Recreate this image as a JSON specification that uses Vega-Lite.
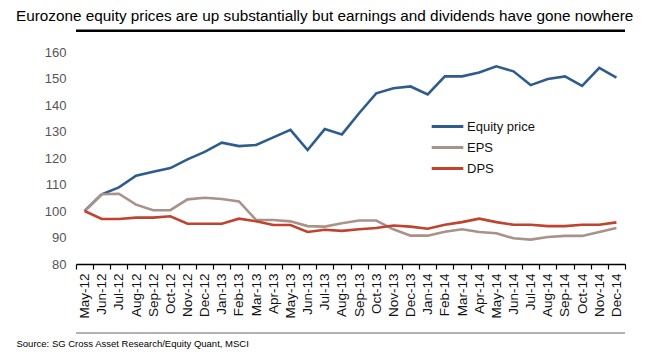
{
  "$schema": "https://vega.github.io/schema/vega-lite/v6.json",
  "width": 549,
  "height": 212,
  "autosize": {"type": "none"},
  "padding": {"left": 76, "top": 52, "right": 20, "bottom": 99},
  "background": "white",
  "config": {
    "view": {"stroke": null},
    "font": "Liberation Sans",
    "axisY": {
      "values": [80, 90, 100, 110, 120, 130, 140, 150, 160],
      "labelOverlap": false,
      "domain": false,
      "ticks": false,
      "grid": false,
      "labelPadding": 10,
      "labelFontSize": 13,
      "labelColor": "#555"
    }
  },
  "title": {
    "text": "Eurozone equity prices are up substantially but earnings and dividends have gone nowhere",
    "anchor": "start",
    "frame": "group",
    "dx": -60,
    "offset": 5,
    "fontSize": 15.3,
    "fontWeight": "normal",
    "color": "#000"
  },
  "layer": [
    {
      "data": {"values": [{"level": 168, "kind": "top"}, {"level": 54, "kind": "bottom"}]},
      "mark": {"type": "rule", "clip": false},
      "encoding": {
        "y": {"field": "level", "type": "quantitative", "scale": {"domain": [80, 160]}, "axis": {"title": null}},
        "stroke": {"field": "kind", "type": "nominal", "scale": {"domain": ["top", "bottom"], "range": ["#000000", "#9a9a9a"]}, "legend": null},
        "strokeWidth": {"field": "kind", "type": "nominal", "scale": {"domain": ["top", "bottom"], "range": [2.5, 1.5]}, "legend": null}
      }
    },
    {
      "data": {"values": [
        {"month": "May-12", "series": "Equity price", "value": 100},
        {"month": "Jun-12", "series": "Equity price", "value": 106.3},
        {"month": "Jul-12", "series": "Equity price", "value": 108.9},
        {"month": "Aug-12", "series": "Equity price", "value": 113.3},
        {"month": "Sep-12", "series": "Equity price", "value": 114.8},
        {"month": "Oct-12", "series": "Equity price", "value": 116.2},
        {"month": "Nov-12", "series": "Equity price", "value": 119.5},
        {"month": "Dec-12", "series": "Equity price", "value": 122.3},
        {"month": "Jan-13", "series": "Equity price", "value": 125.8},
        {"month": "Feb-13", "series": "Equity price", "value": 124.5},
        {"month": "Mar-13", "series": "Equity price", "value": 124.9},
        {"month": "Apr-13", "series": "Equity price", "value": 127.8},
        {"month": "May-13", "series": "Equity price", "value": 130.6},
        {"month": "Jun-13", "series": "Equity price", "value": 123.0},
        {"month": "Jul-13", "series": "Equity price", "value": 130.9},
        {"month": "Aug-13", "series": "Equity price", "value": 128.9},
        {"month": "Sep-13", "series": "Equity price", "value": 136.9},
        {"month": "Oct-13", "series": "Equity price", "value": 144.4},
        {"month": "Nov-13", "series": "Equity price", "value": 146.3},
        {"month": "Dec-13", "series": "Equity price", "value": 147.0},
        {"month": "Jan-14", "series": "Equity price", "value": 144.0},
        {"month": "Feb-14", "series": "Equity price", "value": 150.8},
        {"month": "Mar-14", "series": "Equity price", "value": 150.8},
        {"month": "Apr-14", "series": "Equity price", "value": 152.3},
        {"month": "May-14", "series": "Equity price", "value": 154.6},
        {"month": "Jun-14", "series": "Equity price", "value": 152.7},
        {"month": "Jul-14", "series": "Equity price", "value": 147.5},
        {"month": "Aug-14", "series": "Equity price", "value": 149.8},
        {"month": "Sep-14", "series": "Equity price", "value": 150.8},
        {"month": "Oct-14", "series": "Equity price", "value": 147.2},
        {"month": "Nov-14", "series": "Equity price", "value": 154.0},
        {"month": "Dec-14", "series": "Equity price", "value": 150.3},
        {"month": "May-12", "series": "EPS", "value": 100},
        {"month": "Jun-12", "series": "EPS", "value": 106.3},
        {"month": "Jul-12", "series": "EPS", "value": 106.5},
        {"month": "Aug-12", "series": "EPS", "value": 102.4},
        {"month": "Sep-12", "series": "EPS", "value": 100.3},
        {"month": "Oct-12", "series": "EPS", "value": 100.3},
        {"month": "Nov-12", "series": "EPS", "value": 104.4},
        {"month": "Dec-12", "series": "EPS", "value": 105.0},
        {"month": "Jan-13", "series": "EPS", "value": 104.5},
        {"month": "Feb-13", "series": "EPS", "value": 103.6},
        {"month": "Mar-13", "series": "EPS", "value": 96.6},
        {"month": "Apr-13", "series": "EPS", "value": 96.6},
        {"month": "May-13", "series": "EPS", "value": 96.1},
        {"month": "Jun-13", "series": "EPS", "value": 94.3},
        {"month": "Jul-13", "series": "EPS", "value": 94.1},
        {"month": "Aug-13", "series": "EPS", "value": 95.4},
        {"month": "Sep-13", "series": "EPS", "value": 96.4},
        {"month": "Oct-13", "series": "EPS", "value": 96.4},
        {"month": "Nov-13", "series": "EPS", "value": 93.1},
        {"month": "Dec-13", "series": "EPS", "value": 90.7},
        {"month": "Jan-14", "series": "EPS", "value": 90.7},
        {"month": "Feb-14", "series": "EPS", "value": 92.2},
        {"month": "Mar-14", "series": "EPS", "value": 93.1},
        {"month": "Apr-14", "series": "EPS", "value": 92.1},
        {"month": "May-14", "series": "EPS", "value": 91.6},
        {"month": "Jun-14", "series": "EPS", "value": 89.7},
        {"month": "Jul-14", "series": "EPS", "value": 89.2},
        {"month": "Aug-14", "series": "EPS", "value": 90.2},
        {"month": "Sep-14", "series": "EPS", "value": 90.6},
        {"month": "Oct-14", "series": "EPS", "value": 90.6},
        {"month": "Nov-14", "series": "EPS", "value": 92.1},
        {"month": "Dec-14", "series": "EPS", "value": 93.6},
        {"month": "May-12", "series": "DPS", "value": 100},
        {"month": "Jun-12", "series": "DPS", "value": 97.0},
        {"month": "Jul-12", "series": "DPS", "value": 97.0},
        {"month": "Aug-12", "series": "DPS", "value": 97.5},
        {"month": "Sep-12", "series": "DPS", "value": 97.5},
        {"month": "Oct-12", "series": "DPS", "value": 98.0},
        {"month": "Nov-12", "series": "DPS", "value": 95.2},
        {"month": "Dec-12", "series": "DPS", "value": 95.2},
        {"month": "Jan-13", "series": "DPS", "value": 95.2},
        {"month": "Feb-13", "series": "DPS", "value": 97.1},
        {"month": "Mar-13", "series": "DPS", "value": 96.1},
        {"month": "Apr-13", "series": "DPS", "value": 94.7},
        {"month": "May-13", "series": "DPS", "value": 94.7},
        {"month": "Jun-13", "series": "DPS", "value": 92.1},
        {"month": "Jul-13", "series": "DPS", "value": 92.9},
        {"month": "Aug-13", "series": "DPS", "value": 92.5},
        {"month": "Sep-13", "series": "DPS", "value": 93.1},
        {"month": "Oct-13", "series": "DPS", "value": 93.6},
        {"month": "Nov-13", "series": "DPS", "value": 94.5},
        {"month": "Dec-13", "series": "DPS", "value": 94.1},
        {"month": "Jan-14", "series": "DPS", "value": 93.3},
        {"month": "Feb-14", "series": "DPS", "value": 94.8},
        {"month": "Mar-14", "series": "DPS", "value": 95.8},
        {"month": "Apr-14", "series": "DPS", "value": 97.1},
        {"month": "May-14", "series": "DPS", "value": 95.8},
        {"month": "Jun-14", "series": "DPS", "value": 94.8},
        {"month": "Jul-14", "series": "DPS", "value": 94.8},
        {"month": "Aug-14", "series": "DPS", "value": 94.3},
        {"month": "Sep-14", "series": "DPS", "value": 94.3},
        {"month": "Oct-14", "series": "DPS", "value": 94.8},
        {"month": "Nov-14", "series": "DPS", "value": 94.8},
        {"month": "Dec-14", "series": "DPS", "value": 95.7}
      ]},
      "mark": {"type": "line", "strokeWidth": 2.6},
      "encoding": {
        "x": {
          "field": "month",
          "type": "ordinal",
          "sort": null,
          "bandPosition": 0.5,
          "scale": {"type": "band", "paddingInner": 0, "paddingOuter": 0},
          "axis": {
            "tickBand": "extent",
            "labelAngle": -90,
            "labelFontSize": 13.5,
            "labelColor": "#111",
            "labelPadding": 4,
            "labelOverlap": false,
            "domainColor": "#000",
            "domainWidth": 1.5,
            "tickColor": "#000",
            "tickWidth": 1.2,
            "tickSize": 5,
            "title": "Source: SG Cross Asset Research/Equity Quant, MSCI",
            "titleAnchor": "start",
            "titleAlign": "left",
            "titleX": -60,
            "titleY": 82,
            "titleBaseline": "alphabetic",
            "titleFontSize": 9.5,
            "titleFontWeight": "normal",
            "titleColor": "#000"
          }
        },
        "y": {
          "field": "value",
          "type": "quantitative",
          "scale": {"domain": [80, 160]},
          "axis": {"title": null}
        },
        "color": {
          "field": "series",
          "type": "nominal",
          "sort": null,
          "scale": {"domain": ["Equity price", "EPS", "DPS"], "range": ["#2F5C8F", "#A8928A", "#C0432F"]},
          "legend": {
            "title": null,
            "orient": "none",
            "legendX": 354,
            "legendY": 64,
            "symbolType": "stroke",
            "symbolStrokeWidth": 3,
            "symbolSize": 1000,
            "clipHeight": 21,
            "rowPadding": 0,
            "labelFontSize": 13,
            "labelColor": "#111",
            "labelOffset": 2
          }
        }
      }
    }
  ]
}
